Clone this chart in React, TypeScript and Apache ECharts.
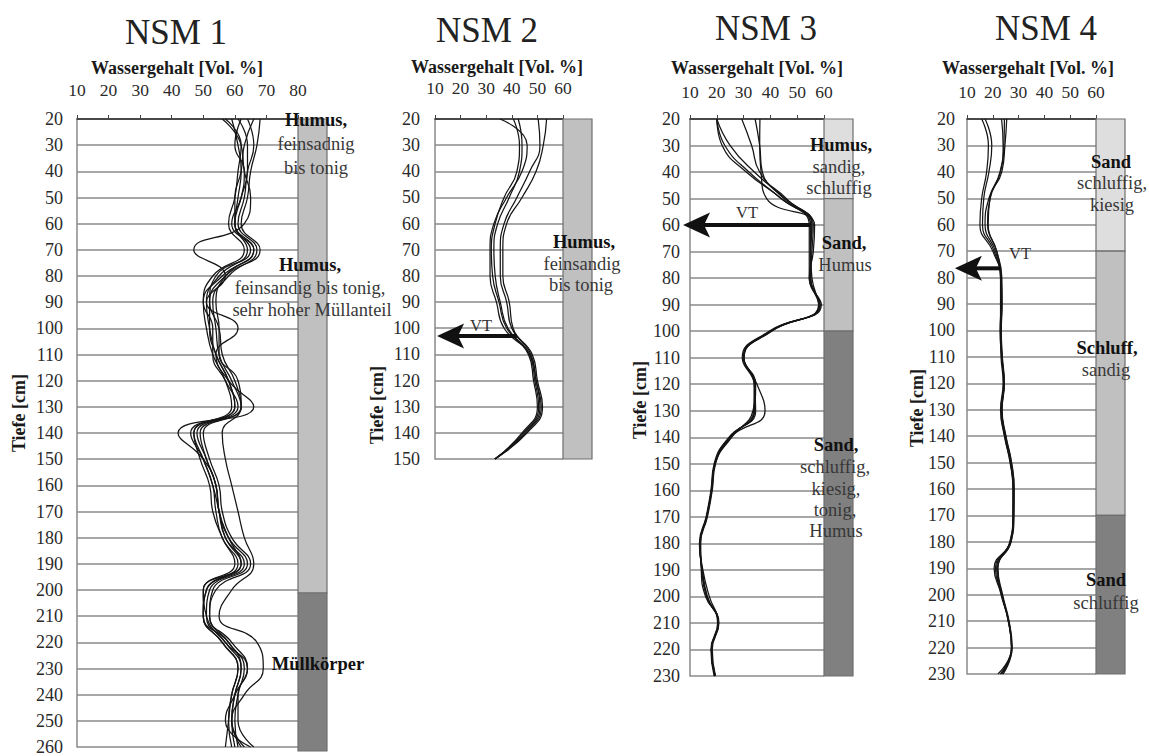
import React, { useEffect, useRef } from "react";
import * as echarts from "echarts";

// ---------------- data ----------------
const panelTitles = ["NSM 1", "NSM 2", "NSM 3", "NSM 4"];
const xAxisTitle = "Wassergehalt [Vol. %]";
const yAxisTitle = "Tiefe [cm]";
const xMaxes = [80, 60, 60, 60];
const yMaxes = [260, 150, 230, 230];

const depths1 = [20, 30, 40, 50, 60, 70, 80, 90, 100, 110, 120, 130, 140, 150, 160, 170, 180, 190, 200, 210, 220, 230, 240, 250, 260];
const nsm1Series = [
  [59, 61, 62, 61, 60, 64, 55, 51, 52, 54, 58, 60, 47, 50, 53, 54, 56, 61, 51, 50, 56, 61, 59, 58, 57],
  [62, 60, 63, 62, 59, 66, 56, 50, 53, 53, 57, 61, 48, 51, 54, 55, 57, 63, 52, 51, 57, 62, 60, 59, 63],
  [64, 66, 64, 63, 61, 67, 58, 53, 54, 55, 59, 62, 49, 51, 54, 55, 58, 64, 53, 52, 58, 63, 61, 60, 61],
  [66, 63, 62, 60, 60, 65, 54, 52, 52, 54, 58, 60, 46, 50, 53, 55, 57, 62, 50, 51, 57, 64, 60, 57, 65],
  [68, 67, 65, 64, 62, 68, 57, 52, 55, 56, 60, 62, 50, 52, 55, 56, 59, 65, 54, 52, 59, 64, 61, 61, 66],
  [56, 62, 63, 65, 63, 47, 57, 51, 61, 54, 58, 66, 42, 50, 54, 55, 58, 62, 51, 50, 58, 62, 60, 59, 60],
  [61, 64, 64, 62, 60, 66, 57, 54, 55, 55, 61, 62, 56, 57, 59, 61, 63, 66, 59, 55, 67, 69, 63, 59, 62],
  [57, 62, 61, 60, 58, 63, 53, 50, 51, 53, 57, 59, 47, 49, 52, 53, 56, 60, 50, 50, 56, 61, 59, 58, 59],
];

const depths2 = [20, 30, 40, 50, 60, 70, 80, 90, 100, 110, 120, 130, 140, 150];
const nsm2Series = [
  [35.4, 46, 44, 38, 33, 31.5, 31.5, 34, 37, 46.5, 48.5, 50, 44, 33.4],
  [40.6, 43, 42, 37, 33.5, 32, 32.5, 35, 38, 47, 49, 50.5, 44.5, 33.4],
  [42.5, 44, 43, 39, 34.5, 33, 33.5, 35.5, 38.5, 47, 49.5, 51, 45, 33.4],
  [50.3, 51, 47, 42, 37, 35.5, 35.5, 38, 40, 47.5, 49.5, 51.5, 45.5, 33.4],
  [53.6, 52.3, 49.5, 44, 38, 36.5, 36.5, 39, 40.5, 48, 50, 52, 46, 33.4],
];

const depths34 = [20, 30, 40, 50, 60, 70, 80, 90, 100, 110, 120, 130, 140, 150, 160, 170, 180, 190, 200, 210, 220, 230];
const nsm3Series = [
  [20, 23, 32, 44, 55, 55, 55, 58.5, 40, 30, 34, 34, 25, 19.3, 18, 16.2, 13.7, 14.4, 16.2, 20.6, 18, 19.3],
  [20, 25, 34, 45.5, 55.5, 55, 55.5, 58, 40.5, 30, 34.5, 33.5, 25.5, 19.5, 18.3, 16.5, 14, 14.2, 15.8, 20.8, 18.3, 19.5],
  [20, 22, 31, 44, 54.5, 54.5, 54.5, 59, 39.5, 29.5, 34, 34.5, 24.5, 19, 17.8, 16, 13.5, 14.6, 16.5, 20.3, 17.8, 19],
  [29.3, 33, 36, 45, 56, 55.5, 55, 58, 40, 30.2, 35, 38, 25, 19.3, 18, 16.2, 13.7, 14.8, 17.2, 20.5, 18, 19.3],
  [34.3, 36, 37, 46, 55.5, 55, 55, 58.5, 40, 30, 34, 34, 25, 19.3, 18, 16.2, 13.7, 14.4, 16.2, 20.6, 18, 19.3],
  [36.1, 36, 36.5, 38.6, 56.5, 56, 54.5, 58.5, 40.2, 30, 34.2, 33.8, 25.2, 19.4, 18.1, 16.3, 13.8, 14.5, 16.3, 20.6, 18.1, 19.4],
];
const nsm4Series = [
  [15.7, 18.3, 17.6, 15.7, 15, 20, 23, 23, 23, 23.2, 24, 23, 24.5, 26.7, 27.8, 27.8, 26.7, 20.5, 23.4, 26, 27.3, 22],
  [17, 19.6, 18.5, 16.5, 16, 20.5, 23, 23.2, 22.8, 23.4, 24.2, 23.2, 24.6, 26.8, 27.9, 27.8, 26.6, 21.5, 23.2, 26.2, 27.4, 23],
  [23.4, 24, 22.8, 18.5, 17, 21, 23.2, 23.4, 23, 23.5, 24.3, 23.4, 24.8, 27, 28, 28, 26.8, 21, 23.6, 26.1, 27.3, 23.5],
  [24.5, 24.3, 23, 19, 18, 21.5, 23.3, 23.5, 23.2, 23.6, 24.4, 23.5, 25, 27.2, 28.2, 28.1, 27, 22, 23.8, 26.3, 27.5, 24],
  [25.4, 24.7, 23.5, 18.9, 18.2, 21.5, 23.5, 23.6, 23.3, 23.7, 24.5, 23.6, 25.1, 27.3, 28.3, 28.2, 27.1, 21.8, 23.5, 26, 27.2, 23],
];

// soil layers: [top depth, bottom depth, shade index]
const layers1 = [[20, 200, 1], [200, 260, 2]];
const layers2 = [[20, 150, 1]];
const layers3 = [[20, 50, 0], [50, 100, 1], [100, 230, 2]];
const layers4 = [[20, 70, 0], [70, 170, 1], [170, 230, 2]];

// VT (arrows) for panels 2..4: depth, from value, to value
const vtPanels = [1, 2, 3];
const vtDepths = [103, 60, 76.5];
const vtFrom = [42, 55, 23];
const vtTo = [10.8, 7.4, 5.3];
const vtLabel = "VT";

// ---------------- layout / style ----------------
const FONT = '"Liberation Serif", "Times New Roman", serif';
const shades = ["#dedede", "#c0c0c0", "#808080"];
const plotGrids = [
  { left: 77, top: 119, width: 221, height: 632 },
  { left: 435, top: 119, width: 128, height: 340 },
  { left: 690, top: 119, width: 134, height: 557 },
  { left: 967, top: 119, width: 129, height: 555 },
];
const colWidth = 29;
const xLabelMargins = [20, 22, 18, 18];
const yLabelMargins = [14, 15, 10, 12];
const titlePos = [[176, 32], [487, 30], [766, 28], [1046, 28]];
const axisTitlePos = [[177, 68], [497, 67], [757, 68], [1028, 68]];
const tiefePos = [[19, 413], [377, 405], [640, 400], [917, 408]];
const vtTextPos = [[481, 325], [747, 212], [1020, 253]];

const soilTexts: [string, number, number, boolean][] = [
  ["Humus,", 316, 120, true],
  ["feinsadnig", 316, 144, false],
  ["bis tonig", 316, 168, false],
  ["Humus,", 310, 265, true],
  ["feinsandig bis tonig,", 310, 288, false],
  ["sehr hoher Müllanteil", 312, 310, false],
  ["Müllkörper", 318, 664, true],
  ["Humus,", 584, 242, true],
  ["feinsandig", 582, 264, false],
  ["bis tonig", 581, 285, false],
  ["Humus,", 841, 145, true],
  ["sandig,", 839, 167, false],
  ["schluffig", 839, 188, false],
  ["Sand,", 844, 243, true],
  ["Humus", 845, 265, false],
  ["Sand,", 836, 445, true],
  ["schluffig,", 835, 467, false],
  ["kiesig,", 836, 489, false],
  ["tonig,", 835, 510, false],
  ["Humus", 836, 531, false],
  ["Sand", 1111, 162, true],
  ["schluffig,", 1112, 183, false],
  ["kiesig", 1112, 205, false],
  ["Schluff,", 1107, 348, true],
  ["sandig", 1106, 370, false],
  ["Sand", 1106, 580, true],
  ["schluffig", 1106, 603, false],
];

export default function App() {
  const ref = useRef<HTMLDivElement>(null);

  useEffect(() => {
    if (!ref.current) return;
    const chart = echarts.init(ref.current, null, { renderer: "svg" });

    const panelDepths = [depths1, depths2, depths34, depths34];
    const panelSeries = [nsm1Series, nsm2Series, nsm3Series, nsm4Series];
    const panelLayers = [layers1, layers2, layers3, layers4];

    const grids: any[] = [];
    const xAxes: any[] = [];
    const yAxes: any[] = [];
    const series: any[] = [];

    plotGrids.forEach((g, i) => {
      grids.push({ left: g.left, top: g.top, width: g.width, height: g.height, containLabel: false });
      grids.push({ left: g.left + g.width, top: g.top, width: colWidth, height: g.height, containLabel: false });
      const pg = i * 2;
      const cg = i * 2 + 1;
      xAxes.push({
        gridIndex: pg,
        type: "value",
        position: "top",
        min: 10,
        max: xMaxes[i],
        interval: 10,
        axisLine: { show: true, lineStyle: { color: "#2a2a2a", width: 1.5 } },
        axisTick: { show: true, length: 4, lineStyle: { color: "#444", width: 1 } },
        axisLabel: { fontFamily: FONT, fontSize: 17.5, color: "#2a2a2a", margin: xLabelMargins[i] },
        splitLine: { show: false },
      });
      yAxes.push({
        gridIndex: pg,
        type: "value",
        inverse: true,
        min: 20,
        max: yMaxes[i],
        interval: 10,
        axisLine: { show: true, lineStyle: { color: "#8a8a8a", width: 1.5 } },
        axisTick: { show: false },
        axisLabel: { fontFamily: FONT, fontSize: 18, color: "#2a2a2a", margin: yLabelMargins[i] },
        splitLine: { show: true, lineStyle: { color: "#8a8a8a", width: 1.5 } },
      });
      xAxes.push({ gridIndex: cg, type: "value", min: 0, max: 1, show: false });
      yAxes.push({ gridIndex: cg, type: "value", inverse: true, min: 20, max: yMaxes[i], show: false });

      panelSeries[i].forEach((vals) => {
        series.push({
          type: "line",
          xAxisIndex: pg,
          yAxisIndex: pg,
          data: panelDepths[i].map((d, j) => [vals[j], d]),
          smooth: 0.5,
          showSymbol: false,
          silent: true,
          lineStyle: { color: "#151515", width: 1.25 },
        });
      });

      series.push({
        type: "custom",
        xAxisIndex: cg,
        yAxisIndex: cg,
        silent: true,
        data: panelLayers[i].map((l) => [l[0], l[1], l[2]]),
        encode: { y: [0, 1] },
        renderItem: (params: any, api: any) => {
          const top = api.value(0);
          const bot = api.value(1);
          const sh = api.value(2);
          const p1 = api.coord([0, top]);
          const p2 = api.coord([1, bot]);
          return {
            type: "rect",
            shape: { x: p1[0], y: p1[1], width: p2[0] - p1[0], height: p2[1] - p1[1] },
            style: { fill: shades[sh], stroke: "#6e6e6e", lineWidth: 1.2 },
          };
        },
      });
    });

    chart.setOption({
      animation: false,
      backgroundColor: "#ffffff",
      grid: grids,
      xAxis: xAxes,
      yAxis: yAxes,
      series,
    });

    const graphics: any[] = [];
    panelTitles.forEach((t, i) => {
      graphics.push({
        type: "text",
        x: titlePos[i][0],
        y: titlePos[i][1],
        style: { text: t, font: `35px ${FONT}`, fill: "#222", textAlign: "center", textVerticalAlign: "middle" },
      });
      graphics.push({
        type: "text",
        x: axisTitlePos[i][0],
        y: axisTitlePos[i][1],
        style: { text: xAxisTitle, font: `bold 18px ${FONT}`, fill: "#1a1a1a", textAlign: "center", textVerticalAlign: "middle" },
      });
      graphics.push({
        type: "text",
        x: tiefePos[i][0],
        y: tiefePos[i][1],
        rotation: Math.PI / 2,
        style: { text: yAxisTitle, font: `bold 18px ${FONT}`, fill: "#1a1a1a", textAlign: "center", textVerticalAlign: "middle" },
      });
    });
    soilTexts.forEach(([t, x, y, b]) => {
      graphics.push({
        type: "text",
        x,
        y,
        z: 10,
        style: {
          text: t,
          font: `${b ? "bold " : ""}18.5px ${FONT}`,
          fill: b ? "#111" : "#383838",
          textAlign: "center",
          textVerticalAlign: "middle",
        },
      });
    });
    vtPanels.forEach((p, k) => {
      const tail = chart.convertToPixel({ gridIndex: p * 2 }, [vtFrom[k], vtDepths[k]]) as number[];
      const tip = chart.convertToPixel({ gridIndex: p * 2 }, [vtTo[k], vtDepths[k]]) as number[];
      const y = tip[1];
      graphics.push({
        type: "line",
        z: 20,
        shape: { x1: tail[0], y1: y, x2: tip[0] + 20, y2: y },
        style: { stroke: "#111", lineWidth: 4 },
      });
      graphics.push({
        type: "polygon",
        z: 20,
        shape: {
          points: [
            [tip[0], y],
            [tip[0] + 27, y - 12.5],
            [tip[0] + 21, y],
            [tip[0] + 27, y + 12.5],
          ],
        },
        style: { fill: "#111" },
      });
      graphics.push({
        type: "text",
        x: vtTextPos[k][0],
        y: vtTextPos[k][1],
        z: 20,
        style: { text: vtLabel, font: `16.5px ${FONT}`, fill: "#333", textAlign: "center", textVerticalAlign: "middle" },
      });
    });
    chart.setOption({ graphic: graphics });

    return () => chart.dispose();
  }, []);

  return (
    <div
      ref={ref}
      style={{ position: "absolute", left: 0, top: 0, width: 1149, height: 756, background: "#fff" }}
    />
  );
}
